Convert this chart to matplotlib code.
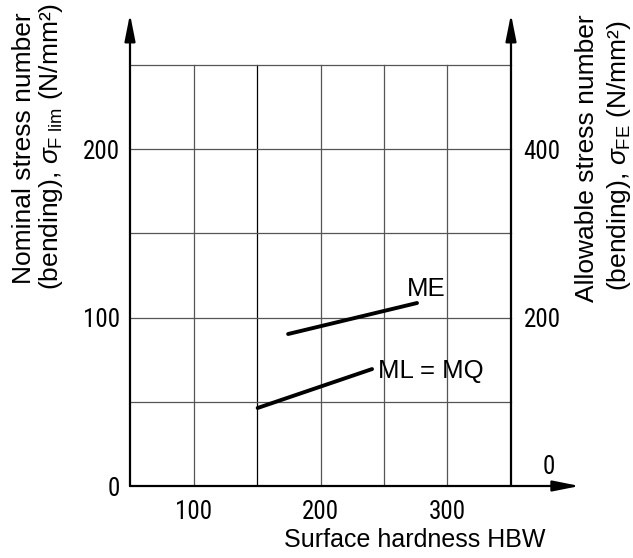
import matplotlib
matplotlib.use("Agg")
import matplotlib.pyplot as plt
from matplotlib import font_manager

# ---- data ----
x_ticks = [100, 200, 300]
y_ticks_left = [0, 100, 200]
y_ticks_right = [200, 400]
x_grid = [100, 150, 200, 250, 300]
y_grid = [50, 100, 150, 200, 250]
me_x = [174.5, 276]
me_y = [90.2, 108.6]
ml_x = [150.5, 240.6]
ml_y = [46.3, 69.4]

names = {f.name for f in font_manager.fontManager.ttflist}
tick_family = [f for f in ["Liberation Sans Narrow", "DejaVu Sans Condensed", "Roboto Condensed"] if f in names] or ["DejaVu Sans"]
label_family = ["Liberation Sans", "DejaVu Sans"]

plt.rcParams['font.family'] = label_family
plt.rcParams['mathtext.fontset'] = 'custom'
plt.rcParams['mathtext.rm'] = 'Liberation Sans'
plt.rcParams['mathtext.it'] = 'Liberation Sans:italic'

fig = plt.figure(figsize=(6.33, 5.58), dpi=100)
XMIN, XMAX, YMIN, YMAX = 50, 404, 0, 280
ax = fig.add_axes([130/633, 1-486/558, (XMAX-XMIN)*1.27/633, (YMAX-YMIN)*1.685/558])
ax.set_xlim(XMIN, XMAX)
ax.set_ylim(YMIN, YMAX)
for s in ax.spines.values():
    s.set_visible(False)

# grid
for gx in x_grid:
    ax.plot([gx, gx], [0, 250], color='black' if gx == 150 else '#555555', lw=0.9, zorder=1)
for gy in y_grid:
    ax.plot([50, 350], [gy, gy], color='#555555', lw=0.9, zorder=1)

# axes with arrows
ap = dict(arrowstyle='-|>,head_length=0.9,head_width=0.18', color='black', lw=1.6, mutation_scale=18, shrinkA=0, shrinkB=0)
ax.annotate('', xy=(50, 280), xytext=(50, 0), arrowprops=ap, zorder=3)
ax.annotate('', xy=(350, 280), xytext=(350, 0), arrowprops=ap, zorder=3)
ax.annotate('', xy=(404, 0), xytext=(50, 0), arrowprops=ap, zorder=3)

# data lines
ax.plot(me_x, me_y, color='black', lw=2.8, solid_capstyle='round', zorder=4)
ax.plot(ml_x, ml_y, color='black', lw=2.8, solid_capstyle='round', zorder=4)
ax.text(268, 117, 'ME', fontsize=18.5, va='center', ha='left')
ax.text(245, 68.5, 'ML = MQ', fontsize=18.5, va='center', ha='left')

# ticks
ax.set_xticks(x_ticks)
ax.set_xticklabels([str(v) for v in x_ticks], family=tick_family, fontsize=18)
ax.set_yticks(y_ticks_left)
ax.set_yticklabels([str(v) for v in y_ticks_left], family=tick_family, fontsize=18)
ax.tick_params(axis='x', length=0, pad=10)
ax.tick_params(axis='y', length=0, pad=7)

loc = (350 - XMIN) / (XMAX - XMIN)
sec = ax.secondary_yaxis(loc, functions=(lambda y: y * 2, lambda y: y / 2))
sec.spines['right'].set_visible(False)
sec.set_yticks(y_ticks_right)
sec.set_yticklabels([str(v) for v in y_ticks_right], family=tick_family, fontsize=18)
sec.tick_params(length=0, pad=9)
ax.text(380, 11, '0', family=tick_family, fontsize=18, ha='center', va='center')

# axis labels
fig.text(545/633, 1-540/558, 'Surface hardness HBW', fontsize=18, ha='right', va='center')
fig.text(24/633, 1-148/558, 'Nominal stress number', fontsize=19, rotation=90, ha='center', va='center')
fig.text(51/633, 1-146/558, r'(bending), $\sigma_{\mathrm{F\ lim}}$ (N/mm²)', fontsize=19, rotation=90, ha='center', va='center')
fig.text(587/633, 1-158/558, 'Allowable stress number', fontsize=19, rotation=90, ha='center', va='center')
fig.text(619/633, 1-156/558, r'(bending), $\sigma_{\mathrm{FE}}$ (N/mm²)', fontsize=19, rotation=90, ha='center', va='center')

fig.savefig('out.png', dpi=100)
